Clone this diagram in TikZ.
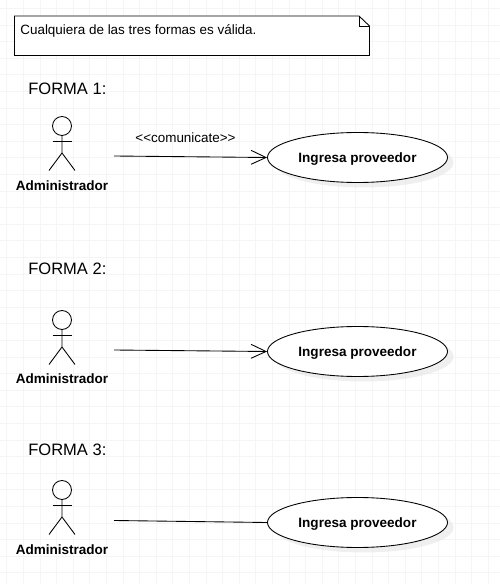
\documentclass[tikz,border=0pt]{standalone}
\usepackage{fontspec}
\setmainfont{Liberation Sans}
\usetikzlibrary{arrows.meta,shapes.geometric,shadows}

\tikzset{
  gridline/.style={line width=0.4pt, black!4},
  usecase/.style={ellipse, draw, fill=white, line width=0.5pt, minimum width=3.6cm, minimum height=1cm, inner sep=0pt, text depth=0pt,
    font=\fontsize{7.7}{9}\selectfont\bfseries,
    drop shadow={shadow xshift=0.12cm, shadow yshift=-0.1cm, fill=black!10, opacity=0.6}},
  actorname/.style={font=\fontsize{7.7}{9}\selectfont\bfseries, inner sep=0pt},
  forma/.style={font=\fontsize{9.4}{11}\selectfont, anchor=west, inner sep=0pt},
  small/.style={font=\fontsize{7.65}{9}\selectfont, inner sep=0pt},
  comm/.style={line width=0.5pt},
  open/.style={comm, -{Straight Barb[length=0.3cm, width=0.28cm]}},
  actor/.pic={
    \draw[line width=0.5pt] (0,0) circle (0.19);
    \draw[line width=0.5pt] (0,-0.19) -- (0,-0.54) -- (-0.26,-0.89);
    \draw[line width=0.5pt] (0,-0.54) -- (0.26,-0.89);
    \draw[line width=0.5pt] (-0.19,-0.31) -- (0.19,-0.31);
  }
}

\begin{document}
\begin{tikzpicture}
	\useasboundingbox (0,0) rectangle (10,11.68);
	\fill[white] (0,0) rectangle (10,11.68);

	% background grid
	\foreach \k in {0,...,29}
		\draw[gridline] ({0.134+0.332*\k},0) -- ({0.134+0.332*\k},11.68);
	\foreach \k in {0,...,34}
		\draw[gridline] (0,{11.514-0.332*\k}) -- (10,{11.514-0.332*\k});

	% note
	\draw[line width=0.5pt, fill=white] (0.29,11.36) -- (7.18,11.36) -- (7.39,11.16) -- (7.39,10.57) -- (0.29,10.57) -- cycle;
	\draw[line width=0.5pt] (7.18,11.36) -- (7.18,11.16) -- (7.39,11.16);
	\node[small, anchor=west] (note) at (0.4,11.07) {Cualquiera de las tres formas es válida.};

	% forma 1
	\node[forma] (f1) at (0.56,9.9) {FORMA 1:};
	\pic at (1.24,9.16) {actor};
	\node[actorname] (admin1) at (1.24,7.97) {Administrador};
	\coordinate (from1) at (2.28,8.56);
	\node[usecase] (uc1) at (7.15,8.53) {Ingresa proveedor};
	\draw[open] (from1) -- (uc1.west);
	\node[small] (comm1) at (3.71,8.93) {{<}{<}comunicate{>}{>}};

	% forma 2
	\node[forma] (f2) at (0.56,6.3) {FORMA 2:};
	\pic at (1.24,5.28) {actor};
	\node[actorname] (admin2) at (1.24,4.11) {Administrador};
	\coordinate (from2) at (2.28,4.68);
	\node[usecase] (uc2) at (7.15,4.65) {Ingresa proveedor};
	\draw[open] (from2) -- (uc2.west);

	% forma 3
	\node[forma] (f3) at (0.56,2.68) {FORMA 3:};
	\pic at (1.24,1.88) {actor};
	\node[actorname] (admin3) at (1.24,0.69) {Administrador};
	\coordinate (from3) at (2.28,1.27);
	\node[usecase] (uc3) at (7.15,1.23) {Ingresa proveedor};
	\draw[comm] (from3) -- (uc3.west);
\end{tikzpicture}
\end{document}
